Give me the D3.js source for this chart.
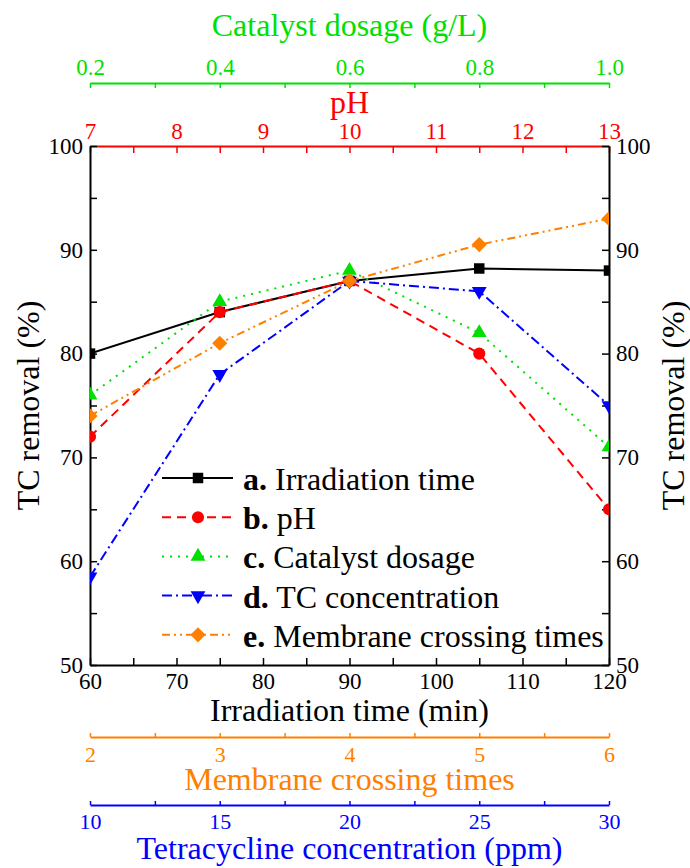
<!DOCTYPE html>
<html>
<head>
<meta charset="utf-8">
<script src="https://cdn.jsdelivr.net/npm/d3@7"></script>
<style>
  body { margin: 0; background: #fff; }
  svg { display: block; font-family: "Liberation Serif", "Times New Roman", serif; }
</style>
</head>
<body>
<svg id="grafico"></svg>
<script>
// dados
const tempoIrradiacao = [60, 75, 90, 105, 120];
const remocaoTempo = [80, 84, 87, 88.2, 88];
const valoresPH = [7, 8.5, 10, 11.5, 13];
const remocaoPH = [72, 84, 87, 80, 65];
const dosagemCatalisador = [0.2, 0.4, 0.6, 0.8, 1.0];
const remocaoCatalisador = [76, 85, 88, 82, 71];
const concentracaoTC = [10, 15, 20, 25, 30];
const remocaoTC = [58.5, 78, 87, 86, 75];
const travessiasMembrana = [2, 3, 4, 5, 6];
const remocaoMembrana = [74, 81, 87, 90.5, 93];
const rotulosLegenda = ['Irradiation time', 'pH', 'Catalyst dosage', 'TC concentration', 'Membrane crossing times'];
const letrasLegenda = ['a.', 'b.', 'c.', 'd.', 'e.'];

const largura = 690, altura = 868;
const margem = { esquerda: 90, direita: 81, superior: 146, inferior: 203 };
const larguraPlotagem = largura - margem.esquerda - margem.direita;
const alturaPlotagem = altura - margem.superior - margem.inferior;

const verde = '#00e000', vermelho = '#ff0000', azul = '#0000ff', laranja = '#ff8000';

const svg = d3.select('#grafico').attr('width', largura).attr('height', altura);

// escalas
const xTempo = d3.scaleLinear().domain([60, 120]).range([0, larguraPlotagem]);
const xPH = d3.scaleLinear().domain([7, 13]).range([0, larguraPlotagem]);
const xCat = d3.scaleLinear().domain([0.2, 1.0]).range([0, larguraPlotagem]);
const xTC = d3.scaleLinear().domain([10, 30]).range([0, larguraPlotagem]);
const xMem = d3.scaleLinear().domain([2, 6]).range([0, larguraPlotagem]);
const y = d3.scaleLinear().domain([50, 100]).range([alturaPlotagem, 0]);

const plotagem = svg.append('g').attr('transform', `translate(${margem.esquerda}, ${margem.superior})`);

// desenha um eixo com marcas maiores e menores
function eixo(gerador, maiores, menores, formato, cor, y0, tamanho, espaco, fonte) {
  const todos = maiores.concat(menores).sort((a, b) => a - b);
  const ehMaior = v => maiores.some(m => Math.abs(m - v) < 1e-9);
  gerador.tickValues(todos)
    .tickSize(tamanho)
    .tickSizeOuter(0)
    .tickPadding(espaco)
    .tickFormat(v => ehMaior(v) ? formato(v) : '');
  const g = plotagem.append('g').attr('transform', `translate(0, ${y0})`).call(gerador);
  g.select('.domain').attr('stroke', cor).attr('stroke-width', 2);
  g.selectAll('.tick line').attr('stroke', cor).attr('stroke-width', 1.5);
  g.selectAll('.tick text').attr('fill', cor).style('font-size', fonte + 'px')
    .style('font-family', '"Liberation Serif", serif');
  return g;
}

const inteiro = d3.format('d');
const passo = (a, b, s) => d3.range(a, b + s / 2, s);

// eixo do catalisador (topo)
eixo(d3.axisTop(xCat), passo(0.2, 1.0, 0.2), passo(0.3, 0.9, 0.2), d3.format('.1f'), verde, 83 - margem.superior, -5, 8, 23);
// eixo do pH (borda superior)
eixo(d3.axisTop(xPH), passo(7, 13, 1), passo(7.5, 12.5, 1), inteiro, vermelho, 0, -7, 7, 23);
// eixo do tempo (borda inferior)
eixo(d3.axisBottom(xTempo), passo(60, 120, 10), passo(65, 115, 10), inteiro, '#000', alturaPlotagem, -7, 8, 23);
// eixo das travessias da membrana
eixo(d3.axisBottom(xMem), passo(2, 6, 1), passo(2.5, 5.5, 1), inteiro, laranja, 737 - margem.superior, -4, 9, 22);
// eixo da concentração de tetraciclina
eixo(d3.axisBottom(xTC), passo(10, 30, 5), passo(12.5, 27.5, 5), inteiro, azul, 805 - margem.superior, -4, 8, 22);

// eixos Y
function eixoY(gerador, x0) {
  gerador.tickValues(passo(50, 100, 5)).tickSize(-7).tickSizeOuter(0).tickPadding(7)
    .tickFormat(v => v % 10 === 0 ? inteiro(v) : '');
  const g = plotagem.append('g').attr('transform', `translate(${x0}, 0)`).call(gerador);
  g.select('.domain').attr('stroke', '#000').attr('stroke-width', 2);
  g.selectAll('.tick line').attr('stroke', '#000').attr('stroke-width', 1.5);
  g.selectAll('.tick text').attr('fill', '#000').style('font-size', '23px')
    .style('font-family', '"Liberation Serif", serif');
}
eixoY(d3.axisLeft(y), 0);
eixoY(d3.axisRight(y), larguraPlotagem);

// títulos
function titulo(texto, x, yy, cor, rot) {
  svg.append('text')
    .attr('transform', `translate(${x}, ${yy})` + (rot ? ' rotate(-90)' : ''))
    .attr('text-anchor', 'middle')
    .attr('fill', cor)
    .style('font-size', '32px')
    .text(texto);
}
const centroX = margem.esquerda + larguraPlotagem / 2;
const centroY = margem.superior + alturaPlotagem / 2;
titulo('Catalyst dosage (g/L)', centroX, 36, verde);
titulo('pH', centroX, 113, vermelho);
titulo('Irradiation time (min)', centroX, 721, '#000');
titulo('Membrane crossing times', centroX, 790, laranja);
titulo('Tetracycline concentration (ppm)', centroX, 859, azul);
titulo('TC removal (%)', 39, centroY, '#000', true);
titulo('TC removal (%)', 684, centroY, '#000', true);

// séries
const series = [
  { x: tempoIrradiacao, y: remocaoTempo, escala: xTempo, cor: '#000', tracejado: null, simbolo: d3.symbolSquare, tam: 110, rot: 0 },
  { x: valoresPH, y: remocaoPH, escala: xPH, cor: vermelho, tracejado: '9,6', simbolo: d3.symbolCircle, tam: 115, rot: 0 },
  { x: dosagemCatalisador, y: remocaoCatalisador, escala: xCat, cor: verde, tracejado: '2,6', simbolo: d3.symbolTriangle, tam: 95, rot: 0 },
  { x: concentracaoTC, y: remocaoTC, escala: xTC, cor: azul, tracejado: '10,4,2,4', simbolo: d3.symbolTriangle, tam: 95, rot: 180 },
  { x: travessiasMembrana, y: remocaoMembrana, escala: xMem, cor: laranja, tracejado: '8,4,2,4,2,4', simbolo: d3.symbolSquare, tam: 115, rot: 45 }
];

plotagem.append('clipPath').attr('id', 'recorte')
  .append('rect').attr('width', larguraPlotagem).attr('height', alturaPlotagem);
const areaDados = plotagem.append('g').attr('clip-path', 'url(#recorte)');

series.forEach(s => {
  const pontos = s.x.map((v, i) => [s.escala(v), y(s.y[i])]);
  areaDados.append('path')
    .attr('d', d3.line()(pontos))
    .attr('fill', 'none')
    .attr('stroke', s.cor)
    .attr('stroke-width', 2)
    .attr('stroke-dasharray', s.tracejado);
  areaDados.selectAll(null).data(pontos).enter().append('path')
    .attr('d', d3.symbol(s.simbolo, s.tam)())
    .attr('transform', d => `translate(${d[0]}, ${d[1]}) rotate(${s.rot})`)
    .attr('fill', s.cor);
});

// legenda
const legenda = svg.append('g');
series.forEach((s, i) => {
  const ly = 478 + i * 39.2;
  legenda.append('line')
    .attr('x1', 162).attr('x2', 233).attr('y1', ly).attr('y2', ly)
    .attr('stroke', s.cor).attr('stroke-width', 2)
    .attr('stroke-dasharray', s.tracejado);
  legenda.append('path')
    .attr('d', d3.symbol(s.simbolo, s.tam)())
    .attr('transform', `translate(198, ${ly}) rotate(${s.rot})`)
    .attr('fill', s.cor);
  const t = legenda.append('text').attr('x', 243).attr('y', ly + 12)
    .style('font-size', '32px').attr('fill', '#000');
  t.append('tspan').style('font-weight', 'bold').text(letrasLegenda[i]);
  t.append('tspan').text(' ' + rotulosLegenda[i]);
});
</script>
</body>
</html>
